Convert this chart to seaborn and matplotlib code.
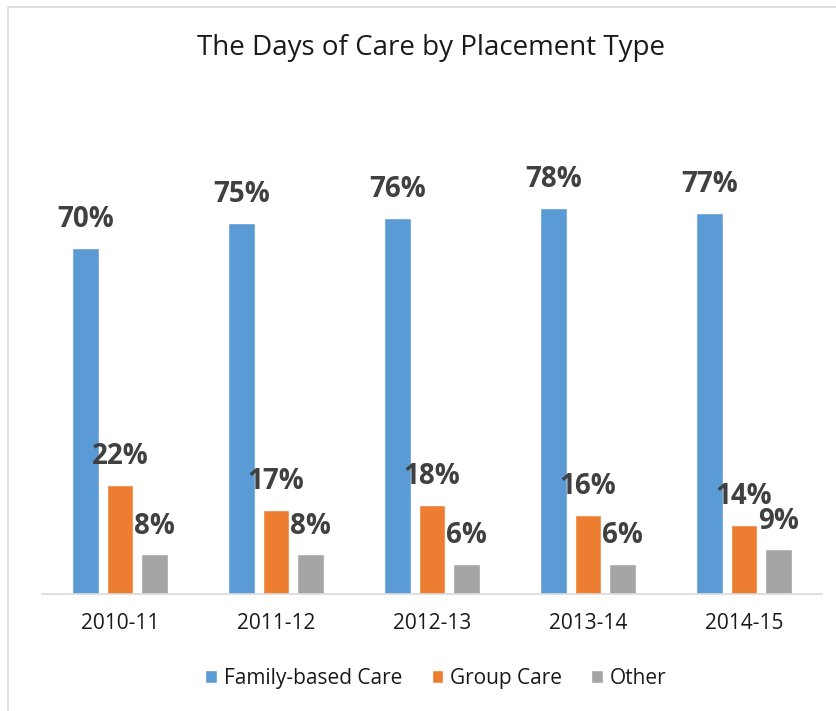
import numpy as np
import pandas as pd
import seaborn as sns
import matplotlib.pyplot as plt
from matplotlib.patches import Rectangle

sns.set_style("white")
plt.rcParams['font.family'] = ['Open Sans', 'DejaVu Sans']

# data
years = ['2010-11', '2011-12', '2012-13', '2013-14', '2014-15']
family_based = [70, 75, 76, 78, 77]
group_care = [22, 17, 18, 16, 14]
other = [8, 8, 6, 6, 9]
series_names = ['Family-based Care', 'Group Care', 'Other']
colors = ['#5B9BD5', '#ED7D31', '#A5A5A5']

df = pd.DataFrame({
    'year': years * 3,
    'value': family_based + group_care + other,
    'type': np.repeat(series_names, len(years)),
})

fig = plt.figure(figsize=(8.37, 7.11), dpi=100)
ax = fig.add_axes([42 / 837, 117 / 711, 780 / 837, 445.5 / 711])

sns.barplot(data=df, x='year', y='value', hue='type', palette=colors,
            width=0.663, gap=0.22, saturation=1, ax=ax)

for cont in ax.containers:
    ax.bar_label(cont, fmt='%d%%', padding=10, fontsize=20,
                 fontweight='bold', color='#404040')

ax.set_xlim(-0.5, 4.5)
ax.set_ylim(0, 90)
ax.set_xlabel('')
ax.set_ylabel('')
ax.set_yticks([])
ax.tick_params(axis='x', length=0, pad=14, labelsize=15, labelcolor='#1a1a1a')
for s in ['top', 'right', 'left']:
    ax.spines[s].set_visible(False)
ax.spines['bottom'].set_color('#D9D9D9')
ax.spines['bottom'].set_linewidth(1.2)

handles, labels = ax.get_legend_handles_labels()
ax.get_legend().remove()
fig.legend(handles, labels, loc='center', bbox_to_anchor=(0.521, 0.046),
           ncol=3, frameon=False, fontsize=15, handlelength=0.55,
           handleheight=0.55, handletextpad=0.35, columnspacing=1.4,
           labelcolor='#1a1a1a')

fig.text(0.515, 0.932, 'The Days of Care by Placement Type', ha='center',
         va='center', fontsize=20, color='#1a1a1a')

fig.patches.append(Rectangle((8 / 837, -0.1), 2, 704 / 711 + 0.1,
                             transform=fig.transFigure, fill=False,
                             edgecolor='#D9D9D9', linewidth=1.2))

fig.savefig('out.png', dpi=100)
